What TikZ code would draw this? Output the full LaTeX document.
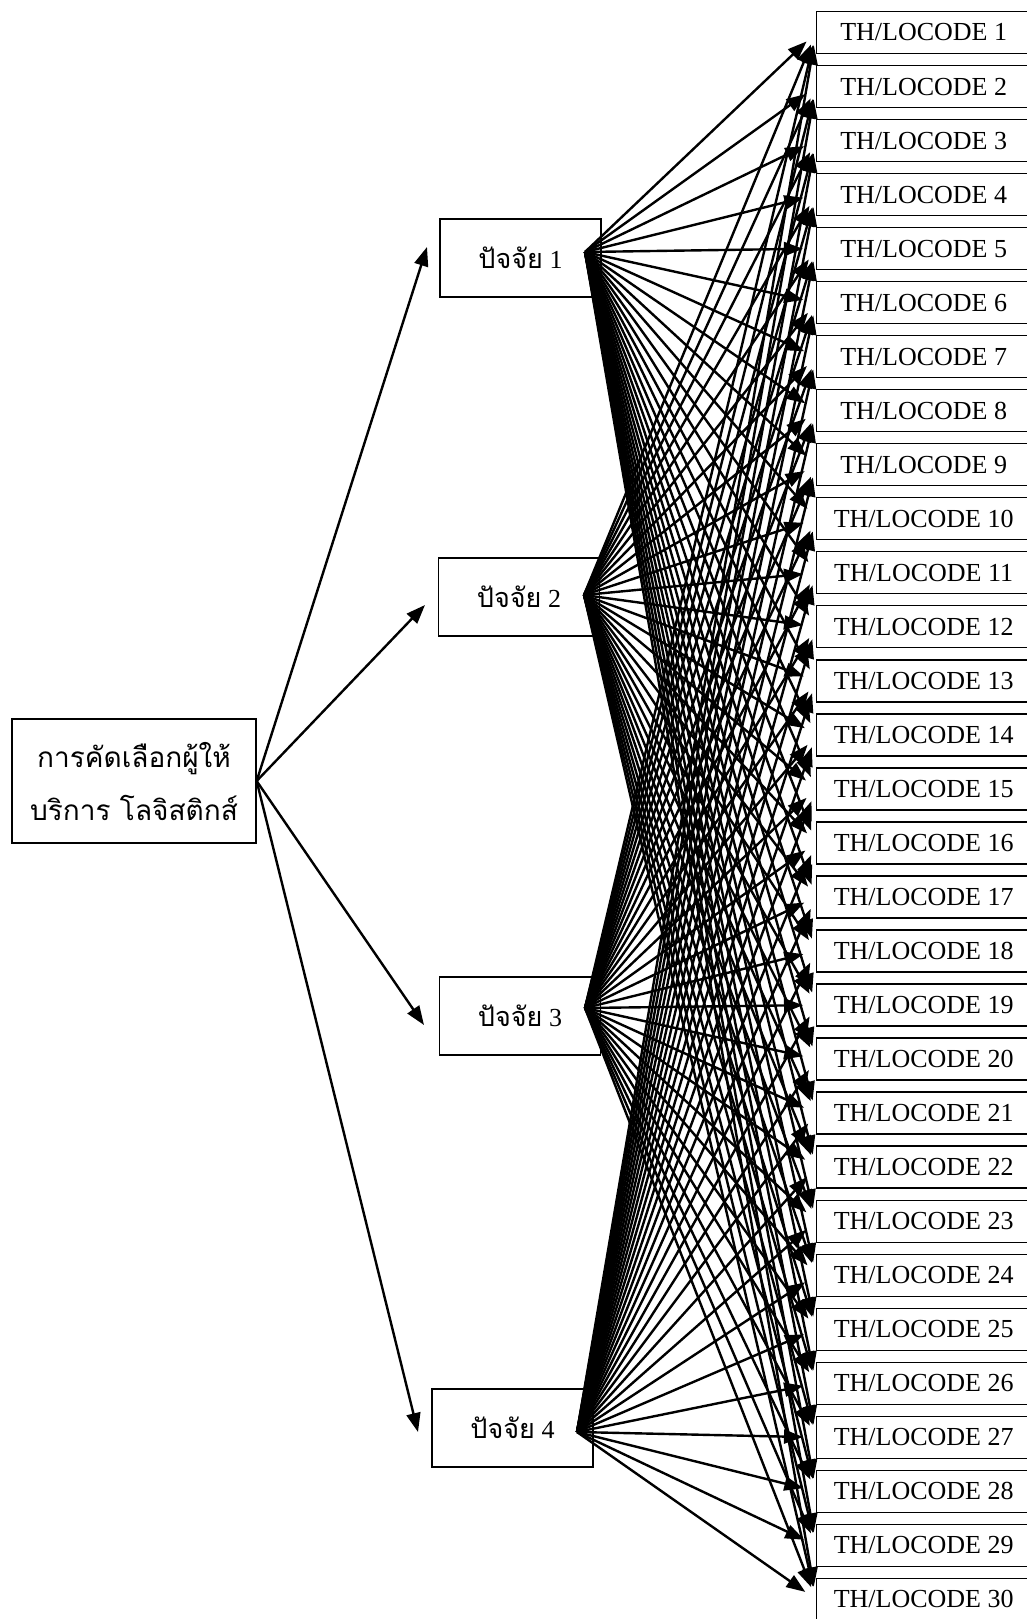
\documentclass[tikz,border=0pt]{standalone}
\usepackage{fontspec}
\setmainfont{Liberation Serif}
\newfontfamily\thaifont[Script=Thai]{Loma}
\usetikzlibrary{arrows.meta}
\begin{document}
\begin{tikzpicture}[x=1pt,y=-1pt,
  box/.style={draw, line width=1.3pt, inner sep=0pt},
  conn/.style={line width=2.4pt, -{Triangle[length=19pt,width=14pt]}},
  factor/.style={box, minimum width=161pt, minimum height=78pt, font=\fontsize{26}{30}\selectfont},
  locode/.style={box, minimum width=222pt, minimum height=42pt, anchor=west, font=\fontsize{26}{30}\selectfont},
  thaif/.style={font=\thaifont\fontsize{27}{30}\selectfont},
]
\useasboundingbox (0,0) rectangle (1026,1619);
\node[box, minimum width=244pt, minimum height=124pt, align=center,
      font=\thaifont\fontsize{28}{53}\selectfont] (L) at (134,781)
      {การคัดเลือกผู้ให้\\บริการ โลจิสติกส์};
\node[factor] (F1) at (520.5,258) {{\thaifont\fontsize{27}{30}\selectfont ปัจจัย} 1};
\node[factor] (F2) at (519,597) {{\thaifont\fontsize{27}{30}\selectfont ปัจจัย} 2};
\node[factor] (F3) at (520,1016) {{\thaifont\fontsize{27}{30}\selectfont ปัจจัย} 3};
\node[factor] (F4) at (512.5,1428) {{\thaifont\fontsize{27}{30}\selectfont ปัจจัย} 4};
\foreach \i in {1,...,30}{
  \pgfmathsetmacro\cy{32.5+(\i-1)*54.03}
  \node[locode] (r\i) at (816,\cy) {\hspace*{-8pt}TH/LOCODE \i};
}
\coordinate (fs1) at (585,252);
\coordinate (fs2) at (584,595);
\coordinate (fs3) at (585,1008);
\coordinate (fs4) at (577,1432);
\coordinate (a1) at (427,247);
\coordinate (a2) at (425,605);
\coordinate (a3) at (424,1025);
\coordinate (a4) at (418,1432);
\foreach \k in {1,...,4}{
  \draw[conn] (L.east) -- (a\k);
}
\foreach \f in {1,...,4}{
  \foreach \i in {1,...,30}{
    \draw[conn, shorten >=13pt] (fs\f) -- (r\i.west);
  }
}
\end{tikzpicture}
\end{document}
